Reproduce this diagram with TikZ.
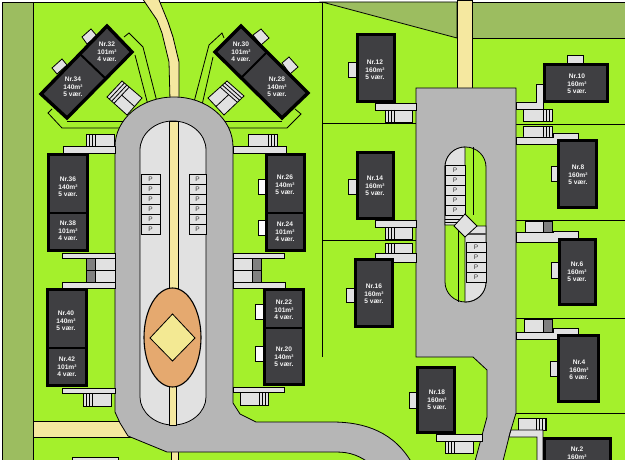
\documentclass[tikz,border=0pt]{standalone}
\usepackage{fontspec}
\setmainfont{Liberation Sans}
\usepackage{xcolor}
\definecolor{lawn}{HTML}{A4F02C}
\definecolor{olive}{HTML}{9CBD60}
\definecolor{road}{HTML}{B6B6B6}
\definecolor{pave}{HTML}{E1E1E1}
\definecolor{gravel}{HTML}{F5E8A0}
\definecolor{oval}{HTML}{E5A96F}
\definecolor{square}{HTML}{F3E993}
\definecolor{roof}{HTML}{3F3F42}

\newcommand{\hus}[4]{\draw[house] (#1+1.7,#2+1.7) rectangle (#3-1.7,#4-1.7);}
\newcommand{\carport}[5]{\draw[pavebox] (#1,#2) rectangle (#3,#4);
  \foreach \i in {0,3,6,9} \draw[wall] (#5+\i,#2) -- (#5+\i,#4);}
\newcommand{\carportdk}[5]{\draw[pavebox] (#1,#2) rectangle (#3,#4);
  \draw[wall, fill=gray] (#5,#2) rectangle (#5+9,#4);}

\begin{document}
\begin{tikzpicture}[x=1pt, y=-1pt,
        wall/.style={draw=black, line width=0.8pt},
        pavebox/.style={wall, fill=pave},
        house/.style={draw=black, line width=3.4pt, fill=roof},
        divide/.style={draw=black, line width=2pt},
        husnr/.style={text=white!92!gray, align=center, inner sep=0pt, font=\fontsize{6.6}{7.7}\selectfont\bfseries},
        plabel/.style={text=black!80, inner sep=0pt, font=\fontsize{6.5}{7}\selectfont}
    ]
        \useasboundingbox (0,0) rectangle (625,460);
        \fill[white] (0,0) rectangle (625,460);
        \draw[wall, fill=lawn] (2,2) rectangle (640,470);
        \draw[wall, fill=olive] (322,2) -- (457,2) -- (457,38) -- cycle;
        \draw[wall, fill=olive] (472,2) -- (640,2) -- (640,38) -- (472,38) -- cycle;

        % plot lines
        \draw[wall] (322,2) -- (322,357);
        \draw[wall] (322,123) -- (416,123);
        \draw[wall] (322,240) -- (416,240);
        \draw[wall] (516,124) -- (640,124);
        \draw[wall] (516,220) -- (640,220);
        \draw[wall] (516,318) -- (640,318);
        \draw[wall] (516,413) -- (640,413);

        % gravel paths
        \draw[wall, fill=gravel] (140,-5) -- (157,20) -- (162,33) -- (169,62) -- (170,100) -- (179,100) -- (179,62) -- (173,37) -- (168,22) -- (157,-5) -- cycle;
        \draw[wall, fill=gravel] (457,0) rectangle (472,90);
        \draw[wall, fill=gravel] (25,421) rectangle (135,437);
        \draw[wall, fill=olive] (2,2) rectangle (33,470);
        \draw[wall, fill=gravel] (171,450) rectangle (178,470);

        % walkways to the angled houses
        \draw[wall] (124,37) -- (129,33) -- (143,47) -- (157,102);
        \draw[wall] (135,55) -- (148,105);
        \draw[wall] (52,109) -- (48,113) -- (62,128) -- (125,128);
        \draw[wall] (67,121) -- (125,121);
        \draw[wall] (224,38) -- (222,33) -- (209,45) -- (194,102);
        \draw[wall] (213,57) -- (202,105);
        \draw[wall] (295,109) -- (301,114) -- (287,128) -- (224,128);
        \draw[wall] (282,121) -- (224,121);

        % roads
        \draw[wall, fill=road] (233,147) -- (233,403) -- (240,414) -- (256,422) -- (332,422)
            .. controls (365,422) and (395,432) .. (413,465) -- (372,465)
            .. controls (355,452) and (345,452) .. (332,452) -- (167,452) -- (128,436) -- (120,423) -- (115,412) -- (115,147)
            .. controls (115,119) and (141,97) .. (174,97) .. controls (207,97) and (233,119) .. (233,147) -- cycle;
        \draw[wall, fill=road] (416,88) -- (516,88) -- (516,413) -- (510,433) -- (502,465) -- (474,465) -- (487,417) -- (487,370) -- (473,357) -- (416,357) -- cycle;

        % west island
        \draw[wall, fill=pave] (140,150) .. controls (140,134) and (155,121) .. (173,121)
            .. controls (191,121) and (206,134) .. (206,150) -- (206,397)
            .. controls (206,412) and (191,425) .. (173,425) .. controls (155,425) and (140,412) .. (140,397) -- cycle;
        \draw[wall, fill=gravel] (169,121) rectangle (178,290);
        \draw[wall, fill=gravel] (169,385) rectangle (176,425);
        \draw[line width=1.1pt, fill=oval] (172.5,337.5) ellipse [x radius=28.5, y radius=49.5];
        \draw[wall, fill=square] (150,338) -- (172.5,314) -- (195,338) -- (172.5,361) -- cycle;
        \foreach \y [count=\n from 0] in {174,184,...,224} {
            \draw[pavebox] (141,\y) rectangle (160,\y+10);
            \draw[pavebox] (189,\y) rectangle (206,\y+10);
            \node[plabel] (pw\n) at (150.5,\y+5) {P};
            \node[plabel] (pe\n) at (197.5,\y+5) {P};
        }

        % east island
        \draw[wall, fill=lawn] (445,167) .. controls (445,156) and (454,147) .. (465.5,147)
            .. controls (477,147) and (486,156) .. (486,167) -- (486,282)
            .. controls (486,293) and (477,302) .. (465.5,302) .. controls (454,302) and (445,293) .. (445,282) -- cycle;
        \draw[wall, fill=pave] (465,147) .. controls (454,147) and (445,156) .. (445,167) -- (445,225) -- (465,225) -- cycle;
        \draw[wall, fill=pave] (465,302) .. controls (477,302) and (486,293) .. (486,282) -- (486,226) -- (465,226) -- cycle;
        \draw[wall] (473,147) -- (473,215);
        \draw[wall] (458,230) -- (458,302);
        \foreach \y [count=\n from 0] in {165,175,...,205} {
            \draw[pavebox] (445,\y) rectangle (465,\y+10);
            \node[plabel] (pa\n) at (455,\y+5) {P};
        }
        \foreach \y [count=\n from 0] in {242,252,...,272} {
            \draw[pavebox] (466,\y) rectangle (486,\y+10);
            \node[plabel] (pb\n) at (476,\y+5) {P};
        }
        \draw[wall] (445,219) -- (465,219);
        \draw[wall] (445,222) -- (465,222);
        \draw[line width=2pt, draw=black!70] (466,234) -- (486,234);
        \draw[wall, fill=pave] (465,214) -- (477,226) -- (465,237) -- (454,226) -- cycle;

        % west side, drives and carports
        \draw[pavebox] (63,146) rectangle (115,153);
        \carport{86}{134}{114}{146}{86}
        \draw[pavebox] (233,146) rectangle (286,153);
        \carport{248}{134}{277}{146}{268}
        \draw[pavebox] (62,253) rectangle (115,258);
        \carportdk{86}{258}{115}{270}{86}
        \carportdk{86}{270}{115}{282}{86}
        \draw[pavebox] (62,282) rectangle (115,288);
        \draw[pavebox] (233,253) rectangle (284,258);
        \carportdk{233}{258}{261}{270}{252}
        \carportdk{233}{270}{261}{282}{252}
        \draw[pavebox] (233,282) rectangle (285,288);
        \draw[pavebox] (62,388) rectangle (115,393);
        \carport{83}{393}{111}{406}{83}
        \draw[pavebox] (233,387) rectangle (284,392);
        \carport{240}{392}{268}{405}{259}

        % terraces
        \draw[wall, fill=white!90!pave] (258,179) rectangle (265,194);
        \draw[wall, fill=white!90!pave] (258,220) rectangle (265,235);
        \draw[wall, fill=white!90!pave] (255,304) rectangle (263,319);
        \draw[wall, fill=white!90!pave] (255,346) rectangle (263,361);
        \draw[pavebox] (82,37) -- (91,29) -- (97,36) -- (87,44) -- cycle;
        \draw[pavebox] (52,68) -- (62,59) -- (67,65) -- (57,74) -- cycle;
        \draw[pavebox] (253,35) -- (261,29) -- (269,38) -- (261,45) -- cycle;
        \draw[pavebox] (282,63) -- (289,57) -- (298,67) -- (290,74) -- cycle;

        % angled carports
        \draw[pavebox] (107,97) -- (122,81) -- (142,98) -- (127,115) -- cycle;
        \foreach \t in {.12,.24,.36} \draw[wall] (107+\t*20,97+\t*17) -- (122+\t*20,81+\t*17);
        \draw[wall] (121.7,95.1) -- (134.5,106.5);
        \draw[pavebox] (208,98) -- (227,81) -- (244,96) -- (224,115) -- cycle;
        \foreach \t in {.12,.24,.36} \draw[wall] (227-\t*19,81+\t*17) -- (244-\t*19,96+\t*17);
        \draw[wall] (228.7,94.6) -- (216,106.5);

        % west houses
        \hus{47}{153}{89}{252}
        \draw[divide] (48,213) -- (88,213);
        \hus{265}{153}{306}{252}
        \draw[divide] (266,213) -- (305,213);
        \hus{46}{288}{88}{387}
        \draw[divide] (47,348) -- (87,348);
        \hus{263}{288}{305}{386}
        \draw[divide] (264,328) -- (304,328);
        \draw[house] (107,26) -- (132,52) -- (67,118) -- (41,94) -- cycle;
        \draw[divide] (80,54) -- (106,79);
        \draw[house] (241,26) -- (215,52) -- (282,118) -- (308,93) -- cycle;
        \draw[divide] (267,52) -- (241,78);

        % east side
        \draw[pavebox] (348,62) rectangle (356,77);
        \draw[pavebox] (348,179) rectangle (356,194);
        \draw[pavebox] (346,288) rectangle (354,302);
        \draw[pavebox] (409,392) rectangle (416,408);
        \draw[pavebox] (567,55) rectangle (583,63);
        \draw[pavebox] (551,166) rectangle (557,181);
        \draw[pavebox] (551,262) rectangle (558,278);
        \draw[pavebox] (550,361) rectangle (557,376);
        \draw[pavebox] (375,103) rectangle (416,110);
        \carport{385}{110}{412}{122}{385}
        \draw[pavebox] (375,220) rectangle (416,227);
        \carport{385}{227}{412}{239}{385}
        \carport{385}{243}{412}{253}{385}
        \draw[pavebox] (375,253) rectangle (416,262);
        \draw[pavebox] (436,434) rectangle (482,441);
        \carport{445}{441}{473}{453}{445}
        \draw[pavebox] (516,102) -- (536,102) -- (536,84) -- (543,84) -- (543,109) -- (516,109) -- cycle;
        \carport{523}{109}{552}{121}{543}
        \carport{523}{126}{552}{137}{543}
        \draw[pavebox] (516,137) -- (553,137) -- (553,133) -- (578,133) -- (578,144) -- (516,144) -- cycle;
        \carportdk{525}{221}{552}{232}{543}
        \draw[pavebox] (516,232) -- (553,232) -- (553,231) -- (578,231) -- (578,242) -- (516,242) -- cycle;
        \carportdk{524}{319}{552}{332}{543}
        \draw[pavebox] (516,332) -- (553,332) -- (553,328) -- (578,328) -- (578,339) -- (516,339) -- cycle;
        \carport{518}{418}{546}{430}{536}
        \draw[pavebox] (511,430) -- (543,430) -- (543,470) -- (537,470) -- (537,437) -- (509,437) -- cycle;

        \hus{356}{33}{396}{103}
        \hus{356}{151}{395}{220}
        \hus{354}{258}{394}{328}
        \hus{416}{366}{456}{434}
        \hus{543}{63}{609}{103}
        \hus{557}{139}{598}{209}
        \hus{558}{238}{597}{306}
        \hus{557}{334}{600}{403}
        \hus{543}{437}{612}{480}
        \draw[wall, fill=pave] (72,457) rectangle (118,470);

        % labels
        \node[husnr] (nr2) at (577,453.5) {Nr.2\\160m²};
        \node[husnr] (nr4) at (579,370) {Nr.4\\160m²\\6 vær.};
        \node[husnr] (nr6) at (577,272) {Nr.6\\160m²\\5 vær.};
        \node[husnr] (nr8) at (578,175) {Nr.8\\160m²\\5 vær.};
        \node[husnr] (nr10) at (577,84) {Nr.10\\160m²\\5 vær.};
        \node[husnr] (nr12) at (375,70) {Nr.12\\160m²\\5 vær.};
        \node[husnr] (nr14) at (375,186) {Nr.14\\160m²\\5 vær.};
        \node[husnr] (nr16) at (374,294) {Nr.16\\160m²\\5 vær.};
        \node[husnr] (nr18) at (437,400) {Nr.18\\160m²\\5 vær.};
        \node[husnr] (nr20) at (284,357) {Nr.20\\140m²\\5 vær.};
        \node[husnr] (nr22) at (284,310) {Nr.22\\101m²\\4 vær.};
        \node[husnr] (nr24) at (285,232) {Nr.24\\101m²\\4 vær.};
        \node[husnr] (nr26) at (285,185) {Nr.26\\140m²\\5 vær.};
        \node[husnr] (nr28) at (277,87) {Nr.28\\140m²\\5 vær.};
        \node[husnr] (nr30) at (241,52) {Nr.30\\101m²\\4 vær.};
        \node[husnr] (nr32) at (107,52) {Nr.32\\101m²\\4 vær.};
        \node[husnr] (nr34) at (73,87) {Nr.34\\140m²\\5 vær.};
        \node[husnr] (nr36) at (68,187) {Nr.36\\140m²\\5 vær.};
        \node[husnr] (nr38) at (68,231) {Nr.38\\101m²\\4 vær.};
        \node[husnr] (nr40) at (66,321) {Nr.40\\140m²\\5 vær.};
        \node[husnr] (nr42) at (67,367) {Nr.42\\101m²\\4 vær.};
    \end{tikzpicture}
\end{document}
